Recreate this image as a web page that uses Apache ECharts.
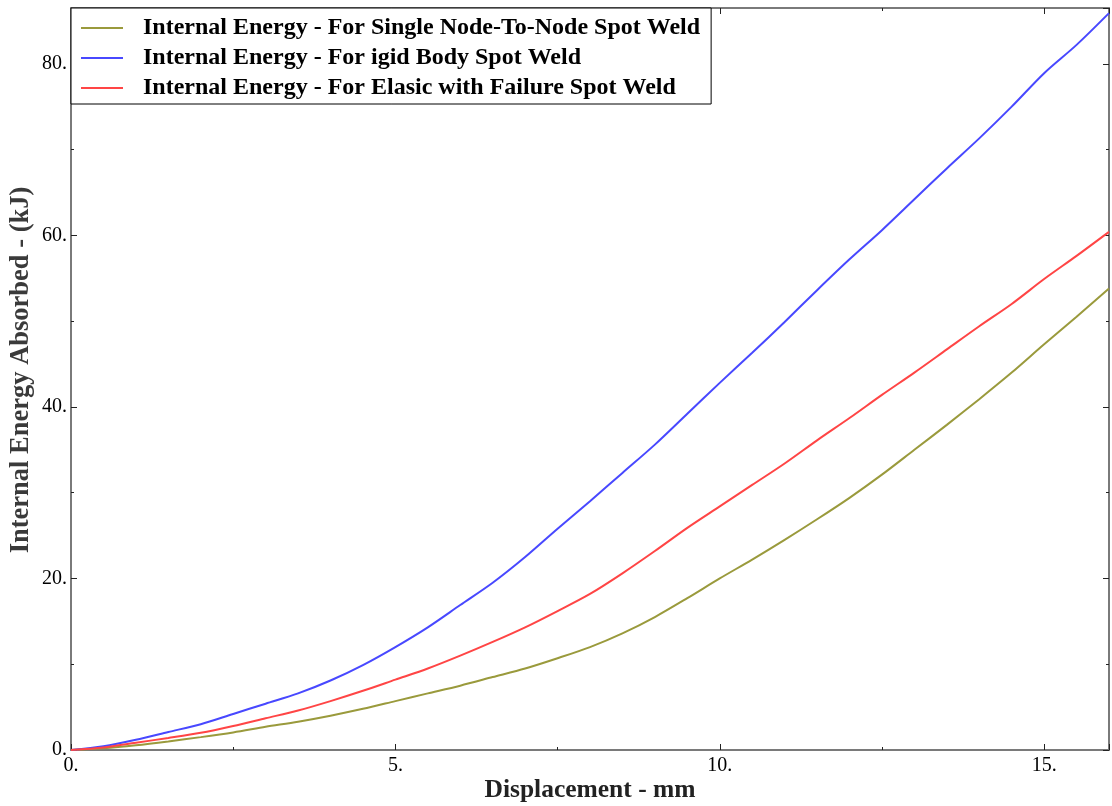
<!DOCTYPE html>
<html>
<head>
<meta charset="utf-8">
<title>Internal Energy vs Displacement</title>
<script src="https://cdn.jsdelivr.net/npm/echarts@6/dist/echarts.min.js"></script>
<style>
  html, body { margin: 0; padding: 0; background: #fff; }
  #chart { width: 1112px; height: 806px; }
</style>
</head>
<body>
<div id="chart"></div>
<script>
// Displacement (mm) sample points
const displacement = [0, 0.5, 1, 1.5, 2, 2.5, 3, 3.5, 4, 4.5, 5, 5.5, 6, 6.5, 7, 7.5, 8,
  8.5, 9, 9.5, 10, 10.5, 11, 11.5, 12, 12.5, 13, 13.5, 14, 14.5, 15, 15.5, 16];

// Internal energy absorbed (kJ) for each spot weld model
const nodeToNode = [0, 0.2, 0.55, 1.0, 1.5, 2.05, 2.7, 3.3, 4.0, 4.8, 5.7, 6.6, 7.5, 8.5, 9.5, 10.7, 12.0,
  13.6, 15.5, 17.7, 20.0, 22.2, 24.5, 26.9, 29.4, 32.1, 35.0, 37.9, 40.9, 44.0, 47.3, 50.5, 53.8];
const rigidBody = [0, 0.45, 1.2, 2.1, 3.0, 4.2, 5.4, 6.6, 8.1, 9.9, 12.0, 14.3, 16.9, 19.5, 22.5, 25.8, 29.0,
  32.3, 35.6, 39.2, 42.8, 46.3, 49.9, 53.6, 57.2, 60.6, 64.2, 67.8, 71.3, 75.0, 78.9, 82.2, 85.9];
const elasticFailure = [0, 0.3, 0.85, 1.4, 2.0, 2.8, 3.7, 4.6, 5.7, 6.9, 8.2, 9.5, 11.0, 12.6, 14.3, 16.2, 18.2,
  20.6, 23.2, 25.9, 28.4, 30.9, 33.4, 36.1, 38.7, 41.4, 44.0, 46.7, 49.4, 52.0, 54.9, 57.6, 60.4];

const seriesNames = [
  'Internal Energy - For Single Node-To-Node Spot Weld',
  'Internal Energy - For igid Body Spot Weld',
  'Internal Energy - For Elasic with Failure Spot Weld'
];
const seriesColors = ['#9a9a3c', '#4848ff', '#ff4545'];

const xRange = { min: 0, max: 16, interval: 5 };
const yRange = { min: 0, max: 86.5, interval: 20 };

const pairs = vals => displacement.map((d, i) => [d, vals[i]]);

const serif = '"Liberation Serif", "Times New Roman", serif';
const axisGray = '#7a7a7a';

function frameAxis(extra) {
  return Object.assign({
    type: 'value',
    axisLine: { show: true, onZero: false, lineStyle: { color: axisGray, width: 2 } },
    axisTick: { show: true, inside: true, length: 6, lineStyle: { color: '#222', width: 1 } },
    minorTick: { show: true, splitNumber: 2, length: 3, lineStyle: { color: '#222', width: 1 } },
    splitLine: { show: false },
    minorSplitLine: { show: false }
  }, extra);
}

const chart = echarts.init(document.getElementById('chart'), null, { renderer: 'canvas' });

chart.setOption({
  backgroundColor: '#ffffff',
  animation: false,
  grid: { left: 71, right: 3, top: 8, bottom: 56, containLabel: false, outerBoundsMode: 'none' },
  legend: {
    orient: 'vertical',
    left: 71,
    top: 8,
    backgroundColor: '#ffffff',
    borderColor: '#000000',
    borderWidth: 1,
    borderRadius: 0,
    padding: [8, 11, 4, 10],
    icon: 'rect',
    itemWidth: 42,
    itemHeight: 2,
    itemGap: 6,
    textStyle: {
      fontFamily: serif, fontWeight: 'bold', fontSize: 24, lineHeight: 24,
      color: '#000', padding: [0, 0, 0, 15]
    },
    data: seriesNames.map(n => ({ name: n }))
  },
  xAxis: [
    frameAxis(Object.assign({
      position: 'bottom',
      name: 'Displacement - mm',
      nameLocation: 'middle',
      nameGap: 27,
      nameMoveOverlap: false,
      nameTextStyle: { fontFamily: serif, fontWeight: 'bold', fontSize: 25.5, color: '#222' },
      axisLabel: {
        show: true, margin: 6, fontFamily: serif, fontSize: 20, color: '#000',
        formatter: v => v + '.',
        showMaxLabel: false
      }
    }, xRange)),
    frameAxis(Object.assign({
      position: 'top',
      axisLabel: { show: false }
    }, xRange))
  ],
  yAxis: [
    frameAxis(Object.assign({
      position: 'left',
      name: 'Internal Energy Absorbed - (kJ)',
      nameLocation: 'middle',
      nameGap: 36,
      nameRotate: 90,
      nameMoveOverlap: false,
      nameTextStyle: {
        fontFamily: serif, fontWeight: 'bold', fontSize: 26.5, color: '#3a3a3a',
        padding: [0, 0, 0, 18]
      },
      axisLabel: {
        show: true, margin: 4, fontFamily: serif, fontSize: 20, color: '#000',
        formatter: v => v + '.',
        showMaxLabel: false
      }
    }, yRange)),
    frameAxis(Object.assign({
      position: 'right',
      axisLabel: { show: false }
    }, yRange))
  ],
  series: [nodeToNode, rigidBody, elasticFailure].map((vals, i) => ({
    name: seriesNames[i],
    type: 'line',
    data: pairs(vals),
    smooth: 0.3,
    symbol: 'none',
    showSymbol: false,
    color: seriesColors[i],
    lineStyle: { color: seriesColors[i], width: 2 },
    xAxisIndex: 0,
    yAxisIndex: 0,
    z: 3
  }))
});
</script>
</body>
</html>
